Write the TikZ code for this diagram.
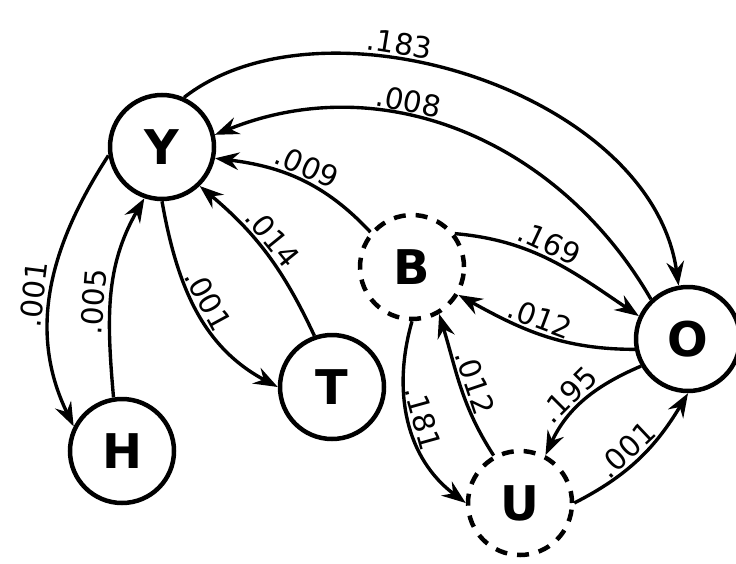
\documentclass[tikz,border=0pt]{standalone}
\usepackage{fontspec}
\setmainfont{DejaVu Sans}
\usetikzlibrary{arrows.meta}

\begin{document}
\begin{tikzpicture}
    [state/.style={circle,draw,line width=3.2pt,minimum size=2.6cm,inner sep=0pt,font=\fontsize{34}{36}\selectfont\bfseries},
     hidden/.style={state,dash pattern=on 3mm off 2.5mm},
     trans/.style={-{Stealth[length=6mm,width=4.4mm,inset=2mm]},line width=2.4pt},
     prob/.style={sloped,above,inner sep=1.5pt,font=\fontsize{21}{22}\selectfont}]

    \useasboundingbox (0,0) rectangle (18.4,14.075);

    % observed states:
    \node (Y) at (4.05, 10.4) [state] {Y};
    \node (T) at (8.3, 4.4) [state] {T};
    \node (H) at (3.05, 2.8) [state] {H};
    \node (O) at (17.2, 5.6) [state] {O};

    % hidden states:
    \node (B) at (10.3, 7.4) [hidden] {B};
    \node (U) at (13, 1.5) [hidden] {U};

    % long arcs over the top:
    \draw [trans] (Y.66) to [out=38,in=98,out looseness=0.85,in looseness=0.95] node [prob,pos=0.38] (lYO) {.183} (O.100);
    \draw [trans] (O.133) to [out=120,in=22] node [prob,pos=0.62] (lOY) {.008} (Y.13);

    % into and out of Y:
    \draw [trans] (B.140) to [out=133,in=-7] node [prob,pos=0.5] (lBY) {.009} (Y.-12);
    \draw [trans] (T.109) to [out=115,in=-40] node [prob,pos=0.55] (lTY) {.014} (Y.-46);
    \draw [trans] (Y.-90) to [out=-80,in=152] node [prob,pos=0.48] (lYT) {.001} (T.180);
    \draw [trans] (Y.189) to [out=237,in=116] node [prob,pos=0.53,inner sep=3pt] (lYH) {.001} (H.153);
    \draw [trans] (H.99) to [out=95,in=240] node [prob,pos=0.45,inner sep=3pt] (lHY) {.005} (Y.251);

    % between B, O and U:
    \draw [trans] (B.38) to [out=-5,in=146] node [prob,pos=0.45] (lBO) {.169} (O.155);
    \draw [trans] (O.191) to [out=180,in=-29] node [prob,pos=0.55] (lOB) {.012} (B.-31);
    \draw [trans] (B.-90) to [out=254,in=143] node [prob,pos=0.5] (lBU) {.181} (U.180);
    \draw [trans] (U.119) to [out=123,in=-73] node [prob,pos=0.5] (lUB) {.012} (B.-60);
    \draw [trans] (O.210) to [out=203,in=65] node [prob,pos=0.55] (lOU) {.195} (U.62);
    \draw [trans] (U.0) to [out=27,in=239] node [prob,pos=0.47] (lUO) {.001} (O.-90);

\end{tikzpicture}
\end{document}
